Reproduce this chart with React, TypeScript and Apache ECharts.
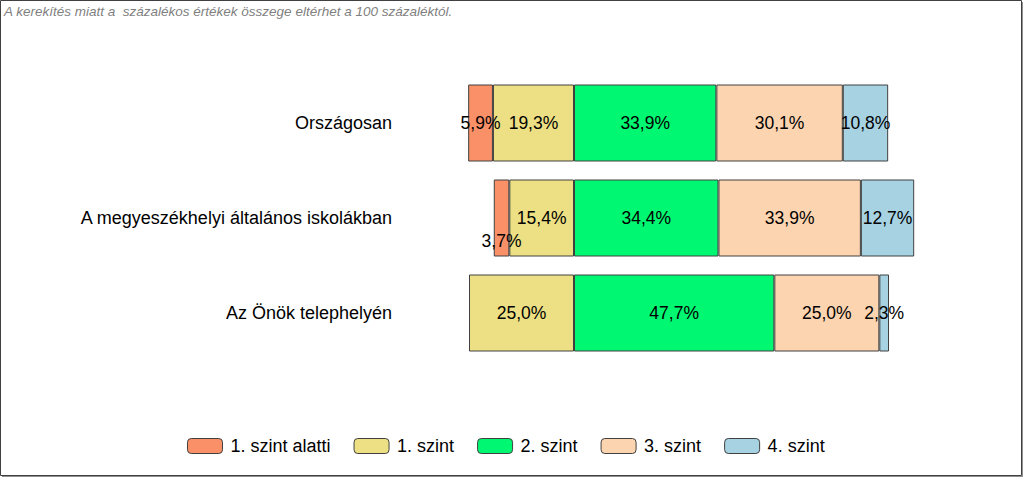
import React, { useEffect, useRef } from "react";
import * as echarts from "echarts";

const categories = [
  "Országosan",
  "A megyeszékhelyi általános iskolákban",
  "Az Önök telephelyén",
];
const seriesNames = ["1. szint alatti", "1. szint", "2. szint", "3. szint", "4. szint"];
const below1 = [5.9, 3.7, 0];
const level1 = [19.3, 15.4, 25.0];
const level2 = [33.9, 34.4, 47.7];
const level3 = [30.1, 33.9, 25.0];
const level4 = [10.8, 12.7, 2.3];
const colors = ["#F99068", "#EDE084", "#00F772", "#FDD4B0", "#A6D2E2"];
const note = "A kerekítés miatt a  százalékos értékek összege eltérhet a 100 százaléktól.";

const FONT = "'Liberation Sans', Arial, sans-serif";

function fmt(v: number) {
  const a = Math.abs(v);
  if (!a) return "";
  return a.toFixed(1).replace(".", ",") + "%";
}

export default function App() {
  const ref = useRef<HTMLDivElement>(null);
  useEffect(() => {
    document.body.style.margin = "0";
    if (!ref.current) return;
    const chart = echarts.init(ref.current, undefined, { renderer: "svg" });

    const mk = (name: string, vals: number[], color: string, neg: boolean, smallOffsets?: Record<number, number[]>) => ({
      name,
      type: "bar",
      stack: "total",
      barWidth: 77,
      itemStyle: { color, borderColor: "#404040", borderWidth: 1 },
      label: {
        show: true,
        position: "inside",
        color: "#000",
        fontFamily: FONT,
        fontSize: 17.5,
        formatter: (p: any) => fmt(p.value),
      },
      data: vals.map((v, i) => {
        const val = v === 0 ? "-" : neg ? -v : v;
        if (smallOffsets && smallOffsets[i]) {
          return { value: val, label: { offset: smallOffsets[i] } };
        }
        return val;
      }),
    });

    chart.setOption({
      animation: false,
      backgroundColor: "#fff",
      title: {
        text: note,
        left: -1,
        top: -1,
        textStyle: {
          fontFamily: FONT,
          fontSize: 13.5,
          fontStyle: "italic",
          fontWeight: "normal",
          color: "#7F7F7F",
        },
      },
      legend: {
        data: seriesNames,
        left: 182,
        top: 432,
        itemWidth: 35,
        itemHeight: 15,
        itemGap: 23,
        textStyle: { fontFamily: FONT, fontSize: 18, color: "#000", padding: [0, 0, 0, 3] },
        itemStyle: { borderColor: "#404040", borderWidth: 1 },
      },
      grid: { left: 448, width: 504, top: 75.5, height: 285, containLabel: false },
      xAxis: {
        type: "value",
        min: -30,
        max: 90,
        show: false,
      },
      yAxis: {
        type: "category",
        data: categories,
        inverse: true,
        axisLine: { show: false },
        axisTick: { show: false },
        axisLabel: { color: "#000", fontFamily: FONT, fontSize: 18, margin: 56 },
      },
      series: [
        mk(seriesNames[1], level1, colors[1], true),
        mk(seriesNames[0], below1, colors[0], true, { 1: [0, 23] }),
        mk(seriesNames[2], level2, colors[2], false),
        mk(seriesNames[3], level3, colors[3], false),
        mk(seriesNames[4], level4, colors[4], false),
      ],
      graphic: [
        {
          type: "rect",
          shape: { x: 0.5, y: 0.5, width: 1021, height: 475 },
          style: { fill: "none", stroke: "#404040", lineWidth: 1 },
          silent: true,
        },
        {
          type: "line",
          shape: { x1: 1022.5, y1: 2, x2: 1022.5, y2: 477 },
          style: { stroke: "#909090", lineWidth: 1 },
          silent: true,
        },
        {
          type: "line",
          shape: { x1: 2, y1: 476.5, x2: 1023, y2: 476.5 },
          style: { stroke: "#909090", lineWidth: 1 },
          silent: true,
        },
      ],
    });
    return () => chart.dispose();
  }, []);
  return <div ref={ref} style={{ width: 1024, height: 478 }} />;
}
